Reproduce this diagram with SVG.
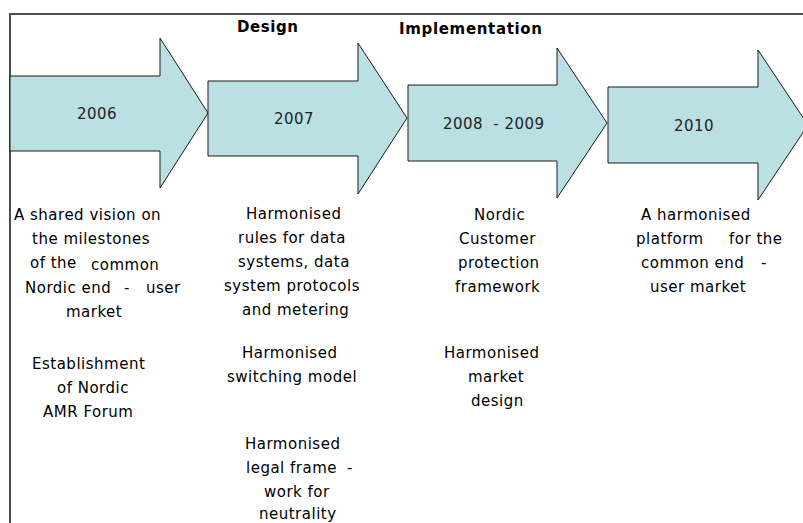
<svg xmlns="http://www.w3.org/2000/svg" width="803" height="523" viewBox="0 0 803 523">
<style>
.arrow{fill:#bae0e3;stroke:#1a1a1a;stroke-width:1;stroke-linejoin:miter}
.frame{fill:none;stroke:#4d4d4d;stroke-width:2}
.t{font-family:"DejaVu Sans",Verdana,sans-serif;font-size:15px;letter-spacing:0.5px;fill:#000000}
.yr{font-family:"DejaVu Sans",Verdana,sans-serif;font-size:15px;letter-spacing:0.5px;fill:#222222;text-anchor:middle}
.h{font-family:"DejaVu Sans",Verdana,sans-serif;font-size:15px;font-weight:bold;fill:#000000}
</style>
<rect x="0" y="0" width="803" height="523" fill="#ffffff"/>
<path class="frame" d="M10,523 V14 H803"/>
<g id="headings">
<text class="h" x="237" y="32" textLength="61" lengthAdjust="spacing">Design</text>
<text class="h" x="399" y="34" textLength="143" lengthAdjust="spacing">Implementation</text>
</g>
<g id="connectors"></g>
<g id="arrow-2006">
<polygon class="arrow" points="10,76 160,76 160,38 208,113 160,188 160,151 10,151"/>
<text class="yr" x="97" y="119">2006</text>
</g>
<g id="arrow-2007">
<polygon class="arrow" points="208,81 358,81 358,43 407,118 358,194 358,156 208,156"/>
<text class="yr" x="294" y="124">2007</text>
</g>
<g id="arrow-2008-2009">
<polygon class="arrow" points="408,85 557,85 557,48 607,123 557,198 557,161 408,161"/>
<text class="yr" x="463" y="129">2008</text>
<text class="yr" x="519" y="129">- 2009</text>
</g>
<g id="arrow-2010">
<polygon class="arrow" points="608,87 758,87 758,50 808,125 758,200 758,163 608,163"/>
<text class="yr" x="694" y="131">2010</text>
</g>
<g id="col-2006">
<text class="t" x="14" y="220">A shared vision on</text>
<text class="t" x="32" y="244">the milestones</text>
<text class="t" x="30" y="268">of the</text>
<text class="t" x="91" y="270">common</text>
<text class="t" x="25" y="293">Nordic end</text>
<text class="t" x="124" y="293">-</text>
<text class="t" x="146" y="293">user</text>
<text class="t" x="66" y="317">market</text>
<text class="t" x="32" y="369">Establishment</text>
<text class="t" x="57" y="393">of Nordic</text>
<text class="t" x="43" y="417">AMR Forum</text>
</g>
<g id="col-2007">
<text class="t" x="246" y="219">Harmonised</text>
<text class="t" x="238" y="243">rules for data</text>
<text class="t" x="238" y="267">systems, data</text>
<text class="t" x="224" y="291">system protocols</text>
<text class="t" x="242" y="315">and metering</text>
<text class="t" x="242" y="358">Harmonised</text>
<text class="t" x="227" y="382">switching model</text>
<text class="t" x="245" y="449">Harmonised</text>
<text class="t" x="246" y="473">legal frame</text>
<text class="t" x="347" y="473">-</text>
<text class="t" x="264" y="497">work for</text>
<text class="t" x="259" y="519">neutrality</text>
</g>
<g id="col-2008-2009">
<text class="t" x="474" y="220">Nordic</text>
<text class="t" x="459" y="244">Customer</text>
<text class="t" x="458" y="268">protection</text>
<text class="t" x="455" y="292">framework</text>
<text class="t" x="444" y="358">Harmonised</text>
<text class="t" x="468" y="382">market</text>
<text class="t" x="471" y="406">design</text>
</g>
<g id="col-2010">
<text class="t" x="641" y="220">A harmonised</text>
<text class="t" x="636" y="244">platform</text>
<text class="t" x="729" y="244">for the</text>
<text class="t" x="641" y="268">common end</text>
<text class="t" x="761" y="268">-</text>
<text class="t" x="650" y="292">user market</text>
</g>
</svg>
